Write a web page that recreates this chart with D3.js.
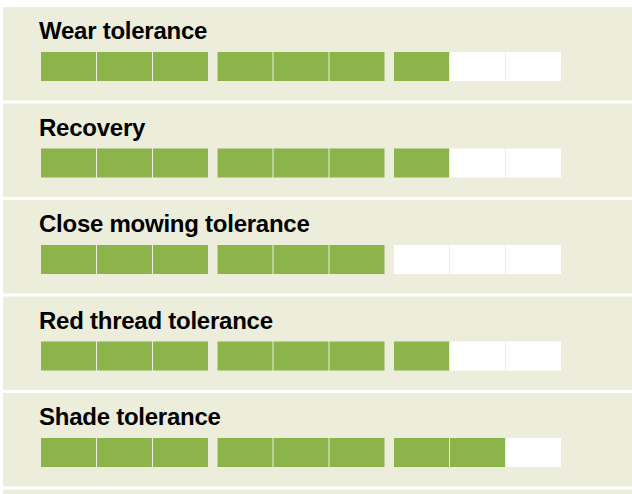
<!DOCTYPE html>
<html>
<head>
<meta charset="utf-8">
<script src="https://cdn.jsdelivr.net/npm/d3@7"></script>
<style>
  body { margin: 0; background: #fff; }
  svg { display: block; }
  .title { font-family: "Liberation Sans", Arial, sans-serif; font-weight: bold; font-size: 24px; letter-spacing: -0.25px; }
</style>
</head>
<body>
<svg id="chart" width="632" height="494"></svg>
<script>
var traits = ["Wear tolerance", "Recovery", "Close mowing tolerance", "Red thread tolerance", "Shade tolerance"];
var scores = [7, 7, 6, 7, 8];
var groups = [0, 1, 2];
var cellsPerGroup = [0, 1, 2];

var svg = d3.select("#chart"),
    width = +svg.attr("width"),
    height = +svg.attr("height");

var green = "#8bb54a",
    panelBg = "#eceedb";

// rows (one panel per trait, plus the start of the next one at the bottom)
var y = d3.scaleBand()
    .domain(d3.range(traits.length + 1))
    .range([7, 7 + 96 * (traits.length + 1)])
    .paddingInner(3 / 96)
    .paddingOuter(0);

var xGroup = d3.scaleBand()
    .domain(groups)
    .range([41, 561])
    .paddingInner(0.054);

var xCell = d3.scaleBand()
    .domain(cellsPerGroup)
    .range([0, xGroup.bandwidth()])
    .paddingInner(0.018);

svg.append("g")
    .selectAll("rect")
    .data(d3.range(traits.length + 1))
    .enter().append("rect")
    .attr("x", 3)
    .attr("y", function(d) { return y(d); })
    .attr("width", width - 3)
    .attr("height", y.bandwidth())
    .attr("fill", panelBg);

var row = svg.append("g")
    .selectAll("g")
    .data(traits)
    .enter().append("g")
    .attr("transform", function(d, i) { return "translate(0," + y(i) + ")"; });

row.append("text")
    .attr("class", "title")
    .attr("x", 39)
    .attr("y", 32)
    .attr("fill", "#000")
    .text(function(d) { return d; });

row.each(function(d, i) {
    var cells = [];
    groups.forEach(function(g) {
        cellsPerGroup.forEach(function(c) {
            cells.push({ g: g, c: c, n: g * cellsPerGroup.length + c + 1 });
        });
    });
    d3.select(this).selectAll("rect.cell")
        .data(cells)
        .enter().append("rect")
        .attr("class", "cell")
        .attr("x", function(c) { return xGroup(c.g) + xCell(c.c); })
        .attr("y", 45)
        .attr("width", xCell.bandwidth())
        .attr("height", 29)
        .attr("fill", function(c) { return c.n <= scores[i] ? green : "#fff"; });
});
</script>
</body>
</html>
